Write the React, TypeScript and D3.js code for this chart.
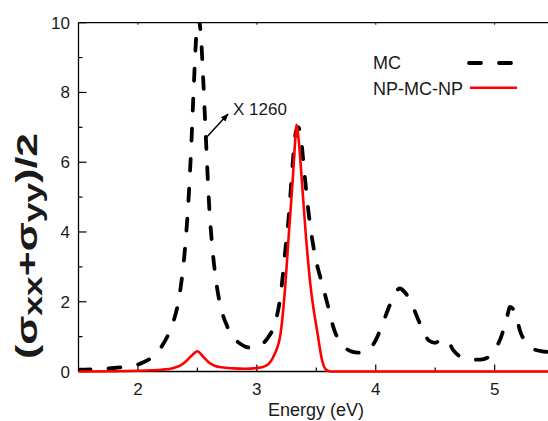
import React from "react";
import * as d3 from "d3";

// ---- data ----
const mcEnergy = [1.5, 1.6, 1.7, 1.8, 1.9, 2.0, 2.05, 2.1, 2.15, 2.2, 2.25, 2.3, 2.35, 2.4, 2.43, 2.45, 2.47, 2.49, 2.51, 2.53, 2.55, 2.57, 2.6, 2.63, 2.67, 2.7, 2.75, 2.8, 2.85, 2.9, 2.95, 3.0, 3.05, 3.1, 3.15, 3.2, 3.24, 3.27, 3.3, 3.33, 3.35, 3.37, 3.4, 3.43, 3.47, 3.5, 3.53, 3.57, 3.6, 3.65, 3.7, 3.75, 3.8, 3.85, 3.9, 3.95, 4.0, 4.05, 4.1, 4.15, 4.2, 4.25, 4.3, 4.35, 4.4, 4.45, 4.5, 4.55, 4.6, 4.65, 4.7, 4.75, 4.8, 4.85, 4.9, 4.95, 5.0, 5.05, 5.1, 5.13, 5.17, 5.22, 5.27, 5.32, 5.4, 5.5];
const mcValue = [0.05, 0.06, 0.08, 0.1, 0.14, 0.2, 0.27, 0.36, 0.5, 0.72, 1.02, 1.45, 2.2, 3.7, 5.2, 6.6, 8.2, 9.6, 10.1, 9.6, 8.3, 6.8, 4.7, 3.4, 2.3, 1.8, 1.3, 1.0, 0.82, 0.72, 0.68, 0.7, 0.8, 1.0, 1.35, 2.2, 3.5, 4.5, 5.9, 6.9, 7.0, 6.7, 5.7, 4.7, 3.7, 3.15, 2.75, 2.25, 1.85, 1.2, 0.85, 0.66, 0.57, 0.54, 0.55, 0.65, 0.9, 1.3, 1.75, 2.15, 2.38, 2.25, 1.95, 1.55, 1.15, 0.88, 0.82, 0.92, 0.9, 0.62, 0.45, 0.38, 0.35, 0.34, 0.35, 0.42, 0.62, 0.95, 1.5, 1.85, 1.7, 1.1, 0.82, 0.66, 0.58, 0.55];

const npEnergy = [1.5, 2.0, 2.2, 2.3, 2.35, 2.4, 2.45, 2.5, 2.55, 2.6, 2.65, 2.7, 2.8, 2.9, 3.0, 3.05, 3.1, 3.15, 3.2, 3.24, 3.27, 3.3, 3.32, 3.335, 3.35, 3.38, 3.41, 3.45, 3.51, 3.55, 3.58, 3.62, 4.0, 5.5];
const npValue = [0.0, 0.02, 0.05, 0.1, 0.16, 0.28, 0.45, 0.58, 0.42, 0.25, 0.16, 0.12, 0.09, 0.08, 0.1, 0.13, 0.22, 0.5, 1.1, 2.5, 4.0, 5.4, 6.5, 7.07, 6.7, 5.4, 4.0, 2.5, 1.1, 0.3, 0.06, 0.0, 0.0, 0.0];

const xMajorTicks = [2, 3, 4, 5];
const xMinorTicks = [2.5, 3.5, 4.5];
const yMajorTicks = [0, 2, 4, 6, 8, 10];
const yMinorTicks = [1, 3, 5, 7, 9];
const seriesNames = ["MC", "NP-MC-NP"];
const annotationText = "X 1260";
const xTitle = "Energy (eV)";

const W = 548;
const H = 421;
const FONT = "Arial, 'Liberation Sans', sans-serif";

export default function App() {
  const x = d3.scaleLinear().domain([1.5, 5.5]).range([78.5, 554.1]);
  const y = d3.scaleLinear().domain([0, 10]).range([371.5, 22.7]);
  const left = x(1.5);
  const right = W;
  const top = y(10);
  const bottom = y(0);

  const line = d3
    .line<[number, number]>()
    .x((d) => x(d[0]))
    .y((d) => y(d[1]))
    .curve(d3.curveMonotoneX);

  const mcPath = line(mcEnergy.map((e, i) => [e, mcValue[i]] as [number, number])) || "";
  const npPath = line(npEnergy.map((e, i) => [e, npValue[i]] as [number, number])) || "";

  const textColor = "#1a1a1a";

  return (
    <svg width={W} height={H} style={{ position: "absolute", left: 0, top: 0, background: "#fff" }}>
      <defs>
        <clipPath id="plotClip">
          <rect x={left} y={top} width={right - left} height={bottom - top + 2} />
        </clipPath>
        <marker id="arrowHead" viewBox="0 0 10 10" refX="9" refY="5" markerWidth="8" markerHeight="8" markerUnits="userSpaceOnUse" orient="auto">
          <path d="M0,1 L10,5 L0,9 Z" fill="#000" />
        </marker>
      </defs>

      {/* frame */}
      <line x1={left} x2={left} y1={top} y2={bottom} stroke="#000" strokeWidth={1.3} />
      <line x1={left} x2={right} y1={top} y2={top} stroke="#000" strokeWidth={1.3} />
      <line x1={left} x2={right} y1={bottom} y2={bottom} stroke="#000" strokeWidth={1.3} />

      {/* x ticks */}
      {xMajorTicks.map((t) => (
        <g key={"xm" + t}>
          <line x1={x(t)} x2={x(t)} y1={bottom} y2={bottom - 7} stroke="#000" strokeWidth={1.2} />
          <line x1={x(t)} x2={x(t)} y1={top} y2={top + 2} stroke="#000" strokeWidth={1} />
          <text x={x(t)} y={395} textAnchor="middle" fontFamily={FONT} fontSize={17} fill={textColor}>
            {t}
          </text>
        </g>
      ))}
      {xMinorTicks.map((t) => (
        <line key={"xn" + t} x1={x(t)} x2={x(t)} y1={bottom} y2={bottom - 4} stroke="#000" strokeWidth={1.2} />
      ))}

      {/* y ticks */}
      {yMajorTicks.map((t) => (
        <g key={"ym" + t}>
          <line x1={left} x2={left + 8} y1={y(t)} y2={y(t)} stroke="#000" strokeWidth={1.2} />
          <text x={70} y={y(t) + 6} textAnchor="end" fontFamily={FONT} fontSize={17} fill={textColor}>
            {t}
          </text>
        </g>
      ))}
      {yMinorTicks.map((t) => (
        <line key={"yn" + t} x1={left} x2={left + 4} y1={y(t)} y2={y(t)} stroke="#000" strokeWidth={1.2} />
      ))}

      {/* curves */}
      <g clipPath="url(#plotClip)">
        <path d={mcPath} fill="none" stroke="#000" strokeWidth={3.8} strokeDasharray="12 18" strokeLinecap="round" />
        <path d={npPath} fill="none" stroke="#ff0000" strokeWidth={2.6} />
      </g>

      {/* axis titles */}
      <text x={316} y={416} textAnchor="middle" fontFamily={FONT} fontSize={18} fill={textColor}>
        {xTitle}
      </text>
      <text
        transform="translate(37,246) rotate(-90)"
        textAnchor="middle"
        fontFamily={FONT}
        fontSize={30}
        fontWeight="bold"
        fill={textColor}
        textLength={226}
        lengthAdjust="spacingAndGlyphs"
      >
        <tspan>(σ</tspan>
        <tspan fontSize={25} dy={5}>xx</tspan>
        <tspan dy={-5}>+σ</tspan>
        <tspan fontSize={25} dy={5}>yy</tspan>
        <tspan dy={-5}>)/2</tspan>
      </text>

      {/* legend */}
      <text x={373} y={69} fontFamily={FONT} fontSize={18} fill={textColor}>
        {seriesNames[0]}
      </text>
      <line x1={469} x2={511} y1={63} y2={63} stroke="#000" strokeWidth={3.8} strokeDasharray="12 18" strokeLinecap="round" />
      <text x={373} y={95} fontFamily={FONT} fontSize={18} fill={textColor}>
        {seriesNames[1]}
      </text>
      <line x1={470} x2={517} y1={87.7} y2={87.7} stroke="#ff0000" strokeWidth={2.6} />

      {/* annotation */}
      <line x1={205} y1={139} x2={228} y2={114} stroke="#000" strokeWidth={1.5} markerEnd="url(#arrowHead)" />
      <text x={233} y={115} fontFamily={FONT} fontSize={17} fill={textColor}>
        {annotationText}
      </text>
    </svg>
  );
}
